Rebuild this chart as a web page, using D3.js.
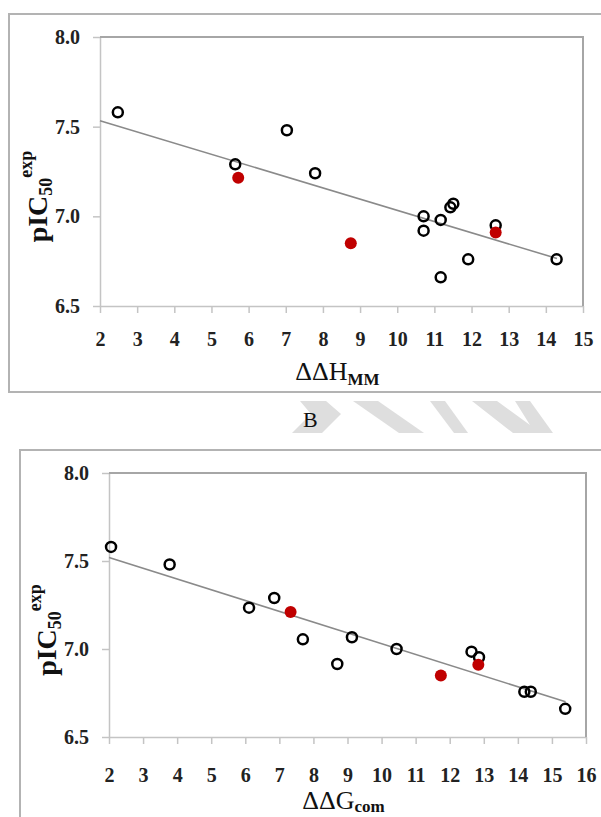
<!DOCTYPE html>
<html>
<head>
<meta charset="utf-8">
<script src="https://cdn.jsdelivr.net/npm/d3@7"></script>
<style>
  body { margin: 0; background: #fff; }
  svg { display: block; }
  text { font-family: "Liberation Serif", "Times New Roman", serif; }
</style>
</head>
<body>
<svg width="601" height="817"></svg>
<script>
// values
const yTicks = [6.5, 7.0, 7.5, 8.0];
const xTicksH = [2, 3, 4, 5, 6, 7, 8, 9, 10, 11, 12, 13, 14, 15];
const xTicksG = [2, 3, 4, 5, 6, 7, 8, 9, 10, 11, 12, 13, 14, 15, 16];

// panel A: ddH_MM vs pIC50
const hOpen = [[2.48, 7.58], [5.64, 7.29], [7.03, 7.48], [7.79, 7.24], [10.71, 7.00],
  [10.71, 6.92], [11.17, 6.98], [11.17, 6.66], [11.43, 7.05], [11.51, 7.07],
  [11.91, 6.76], [12.65, 6.95], [14.29, 6.76]];
const hRed = [[5.72, 7.215], [8.75, 6.85], [12.65, 6.91]];
const hTrend = [[2, 7.533], [14.3, 6.765]];

// panel B: ddG_com vs pIC50
const gOpen = [[2.06, 7.58], [3.78, 7.48], [6.11, 7.235], [6.85, 7.29], [7.69, 7.055],
  [8.70, 6.915], [9.13, 7.067], [10.44, 7.00], [12.64, 6.985], [12.86, 6.953],
  [14.19, 6.757], [14.38, 6.757], [15.39, 6.66]];
const gRed = [[7.33, 7.21], [11.74, 6.85], [12.84, 6.91]];
const gTrend = [[2, 7.52], [15.4, 6.70]];

const svg = d3.select("svg");
const serif = '"Liberation Serif", "Times New Roman", serif';

// outer frames
svg.append("rect").attr("x", 9).attr("y", 14).attr("width", 610).attr("height", 378)
  .attr("fill", "none").attr("stroke", "#b3b3b3").attr("stroke-width", 2);
svg.append("rect").attr("x", 20).attr("y", 450).attr("width", 610).attr("height", 400)
  .attr("fill", "none").attr("stroke", "#b3b3b3").attr("stroke-width", 2);

// watermark shapes between the panels
const marks = [
  [[326, 401], [341, 414], [322, 433], [292, 433], [311, 414], [300, 401]],
  [[353, 401], [378, 401], [424, 433], [399, 433]],
  [[430, 401], [445, 401], [468, 433], [454, 433]],
  [[472, 401], [497, 401], [530, 425], [515, 401], [530, 401], [553, 433], [513, 433]]
];
svg.selectAll("polygon.wm").data(marks).enter().append("polygon")
  .attr("class", "wm")
  .attr("points", d => d.map(p => p.join(",")).join(" "))
  .attr("fill", "#dedede");

svg.append("text").attr("x", 303).attr("y", 427)
  .style("font-family", serif).attr("font-size", 22).attr("fill", "#111").text("B");

const drawPanel = (cfg) => {
  const x = d3.scaleLinear().domain(cfg.xDomain).range([cfg.left, cfg.right]);
  const y = d3.scaleLinear().domain([6.5, 8.0]).range([cfg.bottom, cfg.top]);
  const g = svg.append("g");

  const yAxis = g.append("g")
    .attr("transform", `translate(${cfg.left},0)`)
    .call(d3.axisLeft(y).tickValues(yTicks).tickFormat(d3.format(".1f"))
      .tickSize(7).tickSizeOuter(0).tickPadding(13));

  const xAxis = g.append("g")
    .attr("transform", `translate(0,${cfg.bottom})`)
    .call(d3.axisBottom(x).tickValues(cfg.xTicks).tickFormat(d3.format("d"))
      .tickSize(7).tickSizeOuter(0).tickPadding(cfg.xPad));

  [yAxis, xAxis].forEach(a => {
    a.attr("font-family", null).attr("font-size", null);
    a.select(".domain").attr("stroke", "#c4c4c4").attr("stroke-width", 1.5);
    a.selectAll(".tick line").attr("stroke", "#c4c4c4").attr("stroke-width", 1.5);
    a.selectAll(".tick text").style("font-family", serif)
      .style("font-size", "20px").style("font-weight", "bold").attr("fill", "#222");
  });

  // top & right border of plot area
  g.append("path")
    .attr("d", `M${cfg.left},${cfg.top}H${cfg.right}V${cfg.bottom}`)
    .attr("fill", "none").attr("stroke", "#a6a6a6").attr("stroke-width", 2);

  // trend line
  g.append("line")
    .attr("x1", x(cfg.trend[0][0])).attr("y1", y(cfg.trend[0][1]))
    .attr("x2", x(cfg.trend[1][0])).attr("y2", y(cfg.trend[1][1]))
    .attr("stroke", "#8a8a8a").attr("stroke-width", 1.6);

  g.selectAll("circle.open").data(cfg.open).enter().append("circle")
    .attr("class", "open")
    .attr("cx", d => x(d[0])).attr("cy", d => y(d[1])).attr("r", 5)
    .attr("fill", "none").attr("stroke", "#000").attr("stroke-width", 2.5);

  g.selectAll("circle.red").data(cfg.red).enter().append("circle")
    .attr("class", "red")
    .attr("cx", d => x(d[0])).attr("cy", d => y(d[1])).attr("r", 6)
    .attr("fill", "#c00000");

  // y title
  const yt = g.append("text")
    .attr("transform", `translate(${cfg.left - 53},${(cfg.top + cfg.bottom) / 2 + 25}) rotate(-90)`)
    .attr("text-anchor", "middle").style("font-family", serif)
    .attr("font-weight", "bold").attr("fill", "#111").attr("font-size", 28);
  yt.append("tspan").text("pIC");
  yt.append("tspan").attr("font-size", 18).attr("dy", 5).text("50");
  yt.append("tspan").attr("font-size", 18).attr("dy", -20).text("exp");

  // x title
  const xt = g.append("text")
    .attr("x", (cfg.left + cfg.right) / 2 - 4).attr("y", cfg.bottom + cfg.titleDy)
    .attr("text-anchor", "middle").style("font-family", serif)
    .attr("fill", "#111").attr("font-size", 26);
  xt.append("tspan").text(cfg.xTitle);
  xt.append("tspan").attr("font-size", 17).attr("font-weight", "bold").attr("dy", cfg.subDy).text(cfg.xSub);
};

drawPanel({
  left: 100, right: 583, top: 37, bottom: 306,
  xDomain: [2, 15], xTicks: xTicksH, xPad: 19, titleDy: 74, subDy: 5,
  open: hOpen, red: hRed, trend: hTrend,
  xTitle: "ΔΔH", xSub: "MM"
});

drawPanel({
  left: 109, right: 586, top: 473, bottom: 737,
  xDomain: [2, 16], xTicks: xTicksG, xPad: 24, titleDy: 72, subDy: 3,
  open: gOpen, red: gRed, trend: gTrend,
  xTitle: "ΔΔG", xSub: "com"
});
</script>
</body>
</html>
